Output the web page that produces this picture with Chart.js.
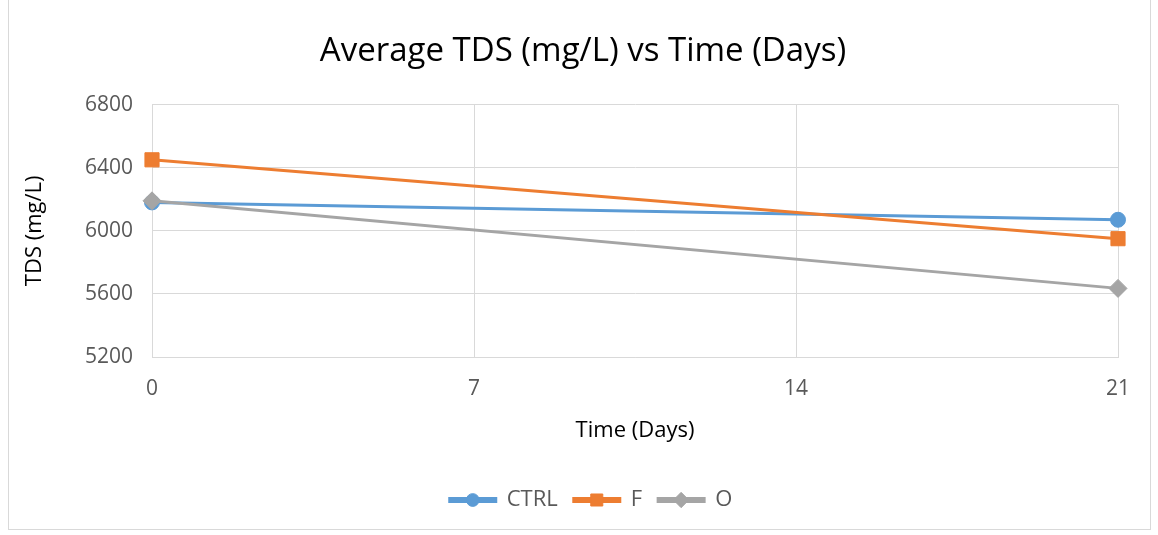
<!DOCTYPE html>
<html>
<head>
<meta charset="utf-8">
<script src="https://cdn.jsdelivr.net/npm/chart.js@4"></script>
<style>
  body { margin: 0; background: #fff; }
  #wrap { position: relative; width: 1158px; height: 535px; }
  #frame { position: absolute; left: 8px; top: -2px; width: 1143px; height: 532px; border: 1px solid #d9d9d9; box-sizing: border-box; }
</style>
</head>
<body>
<div id="wrap">
  <div id="frame"></div>
  <canvas id="tdsChart" width="1158" height="535"></canvas>
</div>
<script>
// values
const days = [0, 21]
const ctrl = [6180, 6070]
const fSeries = [6450, 5950]
const oSeries = [6190, 5635]
const xTicks = [0, 7, 14, 21]

const blue = '#5B9BD5'
const orange = '#ED7D31'
const gray = '#A5A5A5'
const font = "'Open Sans', 'Liberation Sans', sans-serif"

function points(ys) {
    let out = []
    days.forEach((d, i) => out.push({ x: d, y: ys[i] }))
    return out
}

// title and legend are centred on the whole frame, not on the padded area
const centerBlocks = {
    id: 'centerBlocks',
    afterLayout(chart) {
        chart.titleBlock.right += 32
        chart.legend.left += 24
        chart.legend.right += 24
    }
}

// draws the marker in the middle of each legend line
const legendMarkers = {
    id: 'legendMarkers',
    afterDraw(chart) {
        const legend = chart.legend
        if (!legend || !legend.legendHitBoxes) return
        const ctx = chart.ctx
        const bw = chart.options.plugins.legend.labels.boxWidth
        legend.legendHitBoxes.forEach((box, i) => {
            const ds = chart.data.datasets[legend.legendItems[i].datasetIndex]
            const cx = box.left + bw / 2
            const cy = box.top + box.height / 2
            ctx.save()
            ctx.fillStyle = ds.borderColor
            ctx.strokeStyle = ds.borderColor
            Chart.helpers.drawPoint(ctx, { pointStyle: ds.pointStyle, radius: ds.pointRadius * 0.85, borderWidth: 1 }, cx, cy)
            ctx.restore()
        })
    }
}

let ctx = document.getElementById('tdsChart').getContext('2d')
let myChart = new Chart(ctx, {
    type: 'line',
    data: {
        datasets: [{
            label: 'CTRL',
            data: points(ctrl),
            borderColor: blue,
            backgroundColor: blue,
            pointStyle: 'circle',
            pointRadius: 7.5,
            order: 2
        }, {
            label: 'F',
            data: points(fSeries),
            borderColor: orange,
            backgroundColor: orange,
            pointStyle: 'rect',
            pointRadius: 10,
            order: 1
        }, {
            label: 'O',
            data: points(oSeries),
            borderColor: gray,
            backgroundColor: gray,
            pointStyle: 'rectRot',
            pointRadius: 9,
            order: 0
        }]
    },
    options: {
        responsive: false,
        animation: false,
        clip: false,
        elements: { line: { borderWidth: 3 } },
        layout: { padding: { top: 32, right: 40, left: 16, bottom: 14 } },
        plugins: {
            title: {
                display: true,
                text: 'Average TDS (mg/L) vs Time (Days)',
                color: '#000',
                font: { family: font, size: 33, weight: 'normal' },
                padding: { top: 0, bottom: 33 }
            },
            legend: {
                position: 'bottom',
                labels: {
                    boxWidth: 46,
                    boxHeight: 3,
                    color: '#595959',
                    font: { family: font, size: 22 },
                    padding: 16,
                    sort: (a, b) => a.datasetIndex - b.datasetIndex
                }
            },
            tooltip: { enabled: false }
        },
        scales: {
            x: {
                type: 'linear',
                min: 0,
                max: 21,
                afterBuildTicks: axis => { axis.ticks = xTicks.map(v => ({ value: v })) },
                afterFit: axis => { axis.height = 116 },
                grid: { color: '#d9d9d9', drawTicks: false },
                border: { color: '#d9d9d9' },
                ticks: { color: '#595959', font: { family: font, size: 21 }, padding: 19 },
                title: { display: true, text: 'Time (Days)', color: '#000', font: { family: font, size: 22 }, padding: { top: 0, bottom: 29 } }
            },
            y: {
                min: 5200,
                max: 6800,
                afterFit: axis => { axis.width = 136 },
                ticks: { stepSize: 400, color: '#595959', font: { family: font, size: 21 }, padding: 19, callback: v => String(v) },
                grid: { color: '#d9d9d9', drawTicks: false },
                border: { color: '#d9d9d9' },
                title: { display: true, text: 'TDS (mg/L)', color: '#000', font: { family: font, size: 22 }, padding: 6 }
            }
        }
    },
    plugins: [centerBlocks, legendMarkers]
})
</script>
</body>
</html>
